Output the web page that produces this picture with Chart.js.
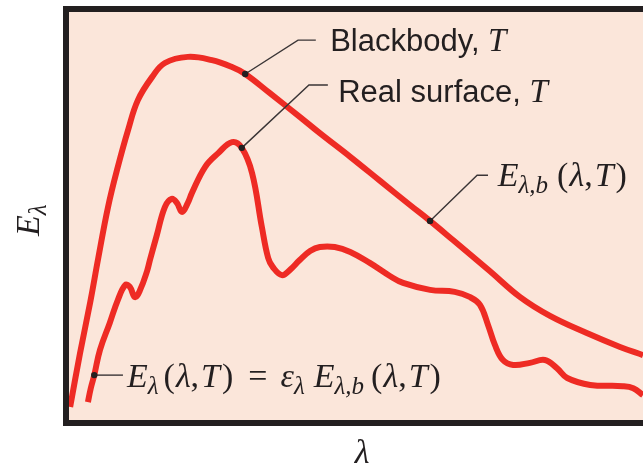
<!DOCTYPE html>
<html>
<head>
<meta charset="utf-8">
<script src="https://cdn.jsdelivr.net/npm/chart.js@4"></script>
<style>
  body { margin: 0; background: #fff; }
</style>
</head>
<body>
<canvas id="emission" width="643" height="468"></canvas>
<script>
// wavelength / emissive power, arbitrary units (0..100 across the frame)
const lambdaBB = [0.2, 1.9, 3.7, 5.1, 6.8, 8.5, 10.3, 12.0, 14.5, 16.7, 20.7, 24.9, 28.4, 30.7,
    35.0, 40.2, 43.7, 49.0, 54.2, 59.4, 62.9, 66.9, 73.3, 78.6, 83.8, 90.2, 96.0, 100];
const blackbody = [3.2, 16.2, 28.9, 39.7, 52.2, 62.0, 71.1, 78.4, 84.1, 87.5, 89.0, 88.2, 86.5, 84.8,
    80.1, 74.3, 70.3, 64.5, 58.6, 52.7, 48.8, 44.1, 36.5, 30.1, 25.5, 21.3, 17.9, 15.9];

const lambdaReal = [3.3, 3.8, 4.4, 5.4, 7.1, 8.5, 9.8, 10.6, 11.5, 12.4, 13.6, 14.1, 15.3, 16.7,
    17.9, 18.8, 19.7, 20.7, 21.4, 23.7, 26.0, 28.4, 30.1, 31.9, 33.6, 34.7, 35.5,
    37.1, 38.5, 40.2, 42.0, 43.7, 46.3, 49.0, 52.4, 55.9, 58.2, 62.9, 67.2, 69.9, 71.6, 73.0,
    74.2, 75.6, 77.4, 80.3, 82.9, 85.0, 86.8, 90.8, 96.5, 98.3, 100];
const realSurface = [4.4, 7.8, 11.0, 17.2, 23.8, 29.4, 33.1, 32.6, 30.1, 31.9, 36.5, 39.2, 45.3, 52.2,
    54.2, 53.2, 51.0, 53.2, 55.6, 62.0, 65.4, 68.1, 66.7, 60.5, 47.3, 39.7, 37.5,
    35.5, 36.8, 39.2, 41.4, 42.4, 42.4, 41.2, 38.5, 35.3, 33.6, 31.9, 31.4, 30.1, 28.2, 23.3,
    18.4, 14.7, 13.5, 14.0, 14.7, 12.7, 10.3, 8.6, 8.3, 7.8, 6.1];

const RED = '#ee2b24';
const INK = '#231f20';
const PEACH = '#fbe6da';
const serif = '"Liberation Serif", "DejaVu Serif", serif';
const sans = '"Liberation Sans", Arial, sans-serif';

const it = (t, size = 34, dy = 0) => ({ t, font: `italic ${size}px ${serif}`, dy });
const rm = (t, size = 34) => ({ t, font: `${size}px ${serif}`, dy: 0 });
const sf = (t, size = 31) => ({ t, font: `${size}px ${sans}`, dy: 0 });
const sub = (t) => it(t, 25, 7);
// numbers in a parts list are extra gaps in px
const lamT = [rm('('), 1, it('λ'), rm(','), 2, it('T'), 2, rm(')')];

// leader lines: dataset index, point index, bends (data units), text start + baseline
const callouts = [
    { ds: 0, idx: 13, path: [[39.9, 93.1], [43.0, 93.1]], at: [45.5, 90.4],
      parts: [sf('Blackbody, '), it('T', 33)] },
    { ds: 1, idx: 22, path: [[41.8, 82.1], [45.1, 82.1]], at: [46.9, 77.9],
      parts: [sf('Real surface, '), it('T', 33)] },
    { ds: 0, idx: 20, path: [[71.1, 60.0], [73.0, 60.0]], at: [74.7, 57.4],
      parts: [it('E'), sub('λ,b'), 9, ...lamT] },
    { ds: 1, idx: 2, path: [[9.4, 11.0]], at: [10.1, 8.1],
      parts: [it('E'), sub('λ'), 5, ...lamT, 15, rm('='), 13, it('ε'), sub('λ'), 9,
          it('E'), sub('λ,b'), 7, ...lamT] }
];

function drawParts(ctx, x, y, parts) {
    for (const p of parts) {
        if (typeof p === 'number') { x += p; continue; }
        ctx.font = p.font;
        ctx.fillText(p.t, x, y + p.dy);
        x += ctx.measureText(p.t).width;
    }
    return x;
}

const framePlugin = {
    id: 'frame',
    beforeDatasetsDraw(chart) {
        const { ctx, chartArea: a } = chart;
        ctx.save();
        ctx.fillStyle = PEACH;
        ctx.fillRect(a.left, a.top, a.right - a.left, a.bottom - a.top);
        ctx.restore();
    },
    afterDatasetsDraw(chart) {
        const { ctx, chartArea: a, scales } = chart;
        ctx.save();
        // callouts
        ctx.strokeStyle = '#3a3536';
        ctx.fillStyle = INK;
        ctx.lineWidth = 1.4;
        ctx.textBaseline = 'alphabetic';
        callouts.forEach(c => {
            const pt = chart.getDatasetMeta(c.ds).data[c.idx];
            ctx.beginPath();
            ctx.moveTo(pt.x, pt.y);
            c.path.forEach(p => ctx.lineTo(scales.x.getPixelForValue(p[0]), scales.y.getPixelForValue(p[1])));
            ctx.stroke();
            ctx.beginPath();
            ctx.arc(pt.x, pt.y, 3.2, 0, Math.PI * 2);
            ctx.fill();
            drawParts(ctx, scales.x.getPixelForValue(c.at[0]), scales.y.getPixelForValue(c.at[1]), c.parts);
        });
        // frame (right side runs off the page)
        ctx.strokeStyle = INK;
        ctx.lineWidth = 6;
        ctx.strokeRect(a.left - 3, a.top - 3, a.right - a.left + 20, a.bottom - a.top + 6);
        // axis titles
        ctx.save();
        ctx.translate(a.left - 30, (a.top + a.bottom) / 2 + 2);
        ctx.rotate(-Math.PI / 2);
        drawParts(ctx, -18, 0, [it('E'), sub('λ')]);
        ctx.restore();
        ctx.textAlign = 'center';
        ctx.font = `italic 34px ${serif}`;
        ctx.fillText('λ', (a.left + a.right) / 2 + 6, a.bottom + 43);
        ctx.restore();
    }
};

new Chart(document.getElementById('emission'), {
    type: 'line',
    data: {
        datasets: [
            { label: 'Blackbody, T', data: lambdaBB.map((x, i) => ({ x, y: blackbody[i] })),
              borderColor: RED, borderWidth: 6, tension: 0.4, clip: 0 },
            { label: 'Real surface, T', data: lambdaReal.map((x, i) => ({ x, y: realSurface[i] })),
              borderColor: RED, borderWidth: 6, tension: 0.4, clip: 0 }
        ]
    },
    options: {
        responsive: false,
        animation: false,
        events: [],
        layout: { padding: { left: 69, top: 12, right: 0, bottom: 48 } },
        elements: { point: { radius: 0 } },
        plugins: { legend: { display: false }, tooltip: { enabled: false } },
        scales: {
            x: { type: 'linear', min: 0, max: 100, display: false },
            y: { min: 0, max: 100, display: false }
        }
    },
    plugins: [framePlugin]
});
</script>
</body>
</html>
